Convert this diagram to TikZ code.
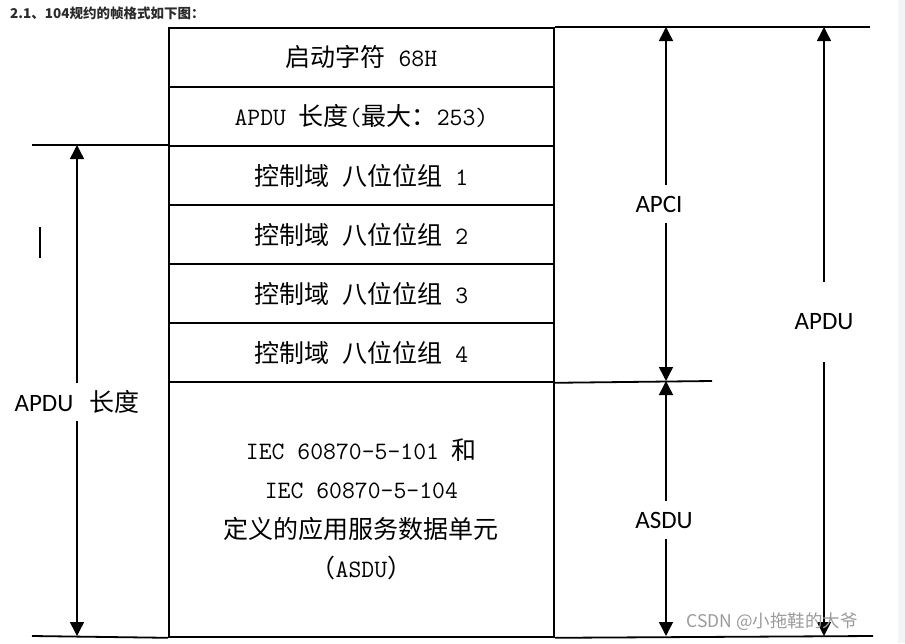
\documentclass[tikz,border=0pt]{standalone}
\usepackage{fontspec}
\setmainfont{Liberation Serif}
\newfontfamily\cjk{Noto Sans CJK SC}
\newfontfamily\lab{Carlito}
\usetikzlibrary{arrows.meta}
\definecolor{stripgray}{HTML}{F3F4F6}
\definecolor{titlegray}{HTML}{2B2B2B}
\definecolor{wmgray}{HTML}{9A9A9A}
\newcommand{\tfont}{\fontsize{25}{39.3}\selectfont}
\begin{document}
\begin{tikzpicture}[x=1pt,y=-1pt,
  rowbox/.style={draw, line width=1.8pt, minimum width=385pt, minimum height=59pt,
    inner sep=0pt, anchor=north west, font=\tfont, align=center},
  rule/.style={line width=1.8pt},
  dimarrow/.style={line width=1.5pt, {Triangle[width=14pt,length=14pt]}-{Triangle[width=14pt,length=14pt]}},
  lbl/.style={fill=white, inner sep=0pt, minimum height=38pt, font=\lab\fontsize{25}{30}\selectfont}
  ]
\useasboundingbox (0,0) rectangle (905,643);
\fill[stripgray] (898,0) rectangle (905,643);

% title
\node[anchor=west, inner sep=0pt, text=titlegray, font=\cjk\bfseries\fontsize{13.5}{16}\selectfont] (title) at (10,13) {2.1、104规约的帧格式如下图：};

% table rows
\node[rowbox] (r1) at (168,27) {{\cjk 启动字符}{\ttfamily\ 68H}};
\node[rowbox] (r2) at (168,86) {{\ttfamily APDU }{\cjk 长度}{\ttfamily(}{\cjk 最大：}{\ttfamily 253)}};
\node[rowbox] (r3) at (168,145) {{\cjk 控制域}{\ttfamily\ }{\cjk 八位位组}{\ttfamily\ 1}};
\node[rowbox] (r4) at (168,204) {{\cjk 控制域}{\ttfamily\ }{\cjk 八位位组}{\ttfamily\ 2}};
\node[rowbox] (r5) at (168,263) {{\cjk 控制域}{\ttfamily\ }{\cjk 八位位组}{\ttfamily\ 3}};
\node[rowbox] (r6) at (168,322) {{\cjk 控制域}{\ttfamily\ }{\cjk 八位位组}{\ttfamily\ 4}};
\node[rowbox, minimum height=255pt] (asdu) at (168,381) {{\ttfamily IEC 60870-5-101 }{\cjk 和}\\
  {\ttfamily IEC 60870-5-104}\\
  {\cjk 定义的应用服务数据单元}\\
  {\cjk （}{\ttfamily ASDU}{\cjk ）}};

% extension rules
\coordinate (topR) at (870,27);
\coordinate (midL) at (32,145);
\coordinate (midR) at (712,381);
\coordinate (botL) at (32,636);
\coordinate (botR) at (873,636);
\draw[rule] (r1.north east) -- (topR);
\draw[rule] (midL) -- (r3.north west);
\draw[rule] (r6.south east) -- (midR);
\draw[rule] (botL) -- (asdu.south west);
\draw[rule] (asdu.south east) -- (botR);

% dimension arrows
\coordinate (la1) at (77,145);
\coordinate (la2) at (77,636);
\draw[dimarrow] (la1) -- node[lbl, pos=0.523] (lblL) {APDU\hspace{16pt}{\cjk 长度}} (la2);

\coordinate (ap1) at (666,27);
\coordinate (ap2) at (666,381);
\coordinate (ap3) at (666,636);
\draw[dimarrow] (ap1) -- node[lbl, pos=0.5, xshift=-7pt] (lblAPCI) {APCI} (ap2);
\draw[dimarrow] (ap2) -- node[lbl, pos=0.545, xshift=-2pt] (lblASDU) {ASDU} (ap3);

\coordinate (pd1) at (824,27);
\coordinate (pd2) at (824,636);
\draw[dimarrow] (pd1) -- node[lbl, pos=0.484, minimum height=80pt] (lblAPDU) {APDU} (pd2);

% cursor mark
\coordinate (cur1) at (40,227);
\coordinate (cur2) at (40,258);
\draw[line width=1.3pt] (cur1) -- (cur2);

% watermark
\node[inner sep=0pt, text=wmgray, font=\cjk\fontsize{17.5}{21}\selectfont] (wm) at (772,622) {CSDN @小拖鞋的大爷};
\end{tikzpicture}
\end{document}
